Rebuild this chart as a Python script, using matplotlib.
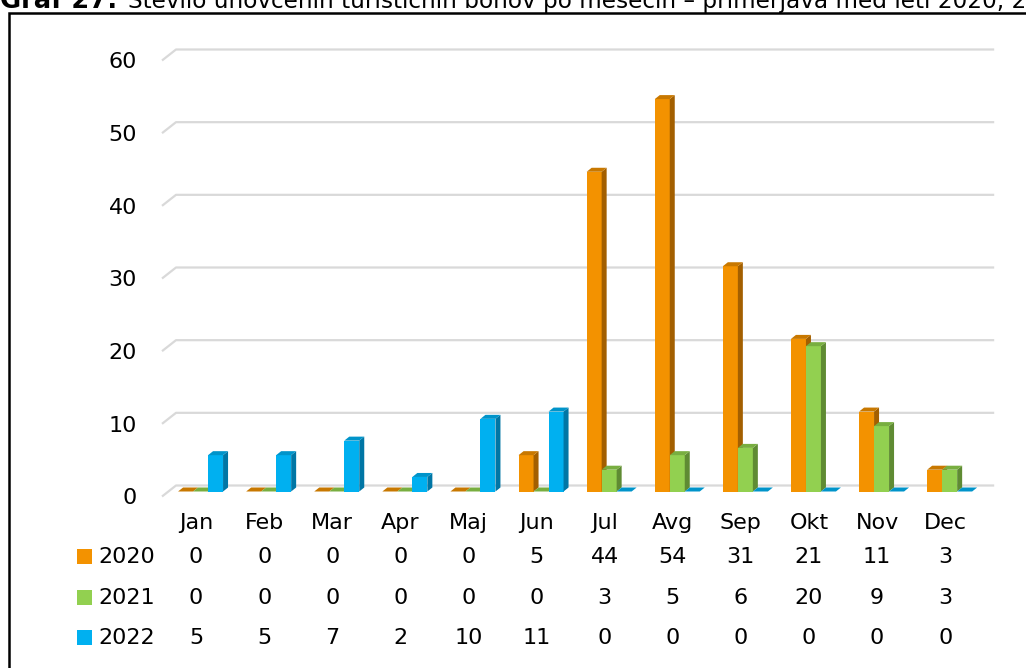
import matplotlib.pyplot as plt
import matplotlib.patches as mpatches
import numpy as np

# Monthly counts of redeemed tourist vouchers
months = ['Jan', 'Feb', 'Mar', 'Apr', 'Maj', 'Jun', 'Jul', 'Avg', 'Sep', 'Okt', 'Nov', 'Dec']
years = ['2020', '2021', '2022']
v2020 = [0, 0, 0, 0, 0, 5, 44, 54, 31, 21, 11, 3]
v2021 = [0, 0, 0, 0, 0, 0, 3, 5, 6, 20, 9, 3]
v2022 = [5, 5, 7, 2, 10, 11, 0, 0, 0, 0, 0, 0]
yticks = [0, 10, 20, 30, 40, 50, 60]

series = [v2020, v2021, v2022]
front = ['#F39200', '#92D050', '#00B0F0']
side = ['#A35F00', '#5F8B33', '#0076A5']
top = ['#C87800', '#78AE40', '#0094CA']

W, H = 1026, 668
fig = plt.figure(figsize=(W / 100, H / 100), dpi=100)
fig.patch.set_facecolor('white')

# plot area in pixels (front plane)
AX_L, AX_R, AX_T, AX_B = 162, 979.2, 60.5, 496.5
ax = fig.add_axes([AX_L / W, 1 - AX_B / H, (AX_R - AX_L) / W, (AX_B - AX_T) / H])
ax.set_xlim(-0.5, 11.5)
ax.set_ylim(0, 60)
for s in ax.spines.values():
    s.set_visible(False)

ux = (AX_R - AX_L) / 12.0
uy = (AX_B - AX_T) / 60.0


def dx(px):
    return px / ux


def dy(px):
    return px / uy


# back wall gridlines with slanted floor edge
for v in yticks:
    ax.plot([-0.5, -0.5 + dx(14), 11.5 + dx(15)],
            [v, v + dy(11), v + dy(11)],
            color='#D9D9D9', lw=1.6, clip_on=False, zorder=1,
            solid_capstyle='butt')

# 3d-looking clustered columns, set a little behind the front plane
bw = dx(15)
b0 = dy(5)
ddx, ddy = dx(5), dy(4)
x = np.arange(len(months))
z = 3.0
for i in range(len(months)):
    for k in range(3):
        xc = x[i] + dx(4.5) + dx(15) * (k - 1)
        val = series[k][i]
        x0, x1 = xc - bw / 2, xc + bw / 2
        ax.bar(xc, val, bw, bottom=b0, color=front[k], linewidth=0,
               clip_on=False, zorder=z)
        sp = mpatches.Polygon([(x1, b0), (x1, b0 + val), (x1 + ddx, b0 + val + ddy),
                               (x1 + ddx, b0 + ddy)], closed=True,
                              facecolor=side[k], edgecolor='none',
                              clip_on=False, zorder=z + 0.001)
        tp = mpatches.Polygon([(x0, b0 + val), (x1, b0 + val), (x1 + ddx, b0 + val + ddy),
                               (x0 + ddx, b0 + val + ddy)], closed=True,
                              facecolor=top[k], edgecolor='none',
                              clip_on=False, zorder=z + 0.002)
        ax.add_patch(sp)
        ax.add_patch(tp)
        z += 0.01

ax.set_xticks([])
ax.set_yticks(yticks)
ax.set_yticklabels([str(t) for t in yticks], fontsize=16)
ax.tick_params(axis='y', length=0, pad=18)


# data table under the chart
def ypx(py):
    return (AX_B - py) / uy


for i, m in enumerate(months):
    ax.text(x[i], ypx(522.7), m, ha='center', va='center', fontsize=16, clip_on=False)

row_y = [556.7, 597.5, 637.7]
for k in range(3):
    for i in range(len(months)):
        ax.text(x[i], ypx(row_y[k]), str(series[k][i]), ha='center', va='center',
                fontsize=16, clip_on=False)
    fig.patches.append(mpatches.Rectangle((77 / W, 1 - (row_y[k] + 7.5) / H), 15 / W, 15 / H,
                                          transform=fig.transFigure, facecolor=front[k],
                                          edgecolor='none'))
    fig.text(98 / W, 1 - row_y[k] / H, years[k], ha='left', va='center', fontsize=16)

# outer frame
fig.patches.append(mpatches.Rectangle((8.5 / W, -0.1), 1.2, 1 - 13.5 / H + 0.1,
                                      transform=fig.transFigure, fill=False,
                                      edgecolor='black', linewidth=1.8))

# caption above the frame
fig.text(0, 1 - 8 / H, 'Graf 27:', fontsize=18.5, fontweight='bold',
         ha='left', va='baseline')
fig.text(128 / W, 1 - 8 / H,
         'Število unovčenih turističnih bonov po mesecih – primerjava med leti 2020, 2021 in 2022',
         fontsize=16.7, ha='left', va='baseline')

fig.savefig('out.png', dpi=100)
